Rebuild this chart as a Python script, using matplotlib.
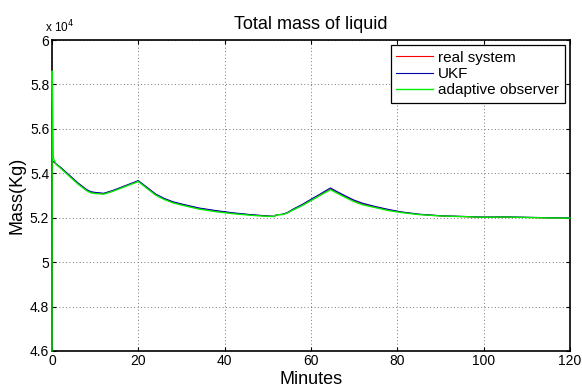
import matplotlib
matplotlib.use('Agg')
import matplotlib.pyplot as plt

plt.rcParams['font.family'] = ['Liberation Sans', 'DejaVu Sans']

# time in minutes
t = [0, 0.5, 1, 2, 4, 6, 8, 9, 10, 12, 14, 16, 18, 20, 22, 24, 26, 28, 30,
     34, 38, 42, 46, 50, 51.5, 52, 53.5, 54.5, 56, 58, 60, 62, 64.5, 66, 68,
     70, 72, 75, 78, 81, 85, 90, 95, 100, 105, 110, 115, 120]

# mass (x 10^4 kg)
real_system = [5.455, 5.45, 5.44, 5.425, 5.39, 5.355, 5.325, 5.315, 5.312,
               5.308, 5.32, 5.335, 5.35, 5.365, 5.335, 5.305, 5.285, 5.27,
               5.26, 5.242, 5.23, 5.22, 5.213, 5.207, 5.206, 5.213, 5.215,
               5.222, 5.238, 5.258, 5.28, 5.302, 5.33, 5.315, 5.295, 5.276,
               5.262, 5.248, 5.235, 5.225, 5.215, 5.208, 5.205, 5.202, 5.203,
               5.201, 5.199, 5.198]
ukf = [5.452, 5.452, 5.442, 5.427, 5.392, 5.357, 5.327, 5.317, 5.314,
       5.31, 5.322, 5.337, 5.352, 5.367, 5.337, 5.307, 5.287, 5.272,
       5.262, 5.244, 5.232, 5.222, 5.214, 5.208, 5.206, 5.213, 5.216,
       5.223, 5.24, 5.26, 5.283, 5.305, 5.334, 5.318, 5.298, 5.279,
       5.265, 5.25, 5.237, 5.226, 5.216, 5.209, 5.206, 5.203, 5.204,
       5.202, 5.2, 5.199]

t_obs = [0, 0.05, 0.3, 0.6, 1, 2, 4, 6, 8, 9, 10, 12, 14, 16, 18, 20, 22, 24,
         26, 28, 30, 34, 38, 42, 46, 50, 51.5, 52, 53.5, 54.5, 56, 58, 60, 62,
         64.5, 66, 68, 70, 72, 75, 78, 81, 85, 90, 95, 100, 105, 110, 115, 120]
adaptive_observer = [4.6, 5.86, 5.47, 5.455, 5.44, 5.423, 5.387, 5.352, 5.322,
                     5.312, 5.309, 5.306, 5.318, 5.333, 5.348, 5.363, 5.332,
                     5.302, 5.282, 5.267, 5.257, 5.239, 5.227, 5.218, 5.211,
                     5.206, 5.206, 5.213, 5.214, 5.221, 5.236, 5.255, 5.277,
                     5.299, 5.326, 5.311, 5.291, 5.272, 5.258, 5.245, 5.232,
                     5.223, 5.214, 5.208, 5.205, 5.202, 5.203, 5.201, 5.199,
                     5.198]

fig = plt.figure(figsize=(5.82, 3.88), dpi=100)
ax = fig.add_axes([0.0893, 0.0954, 0.890, 0.8015])

ax.plot(t, real_system, color='#ff0000', lw=0.8, label='real system')
ax.plot(t, ukf, color='#0000b0', lw=0.8, label='UKF')
ax.plot(t_obs, adaptive_observer, color='#00ee00', lw=1.0,
        label='adaptive observer', clip_on=False, zorder=5)

ax.set_xlim(0, 120)
ax.set_ylim(4.6, 6.0)
ax.set_xticks([0, 20, 40, 60, 80, 100, 120])
ax.set_yticks([4.6, 4.8, 5.0, 5.2, 5.4, 5.6, 5.8, 6.0])
ax.set_yticklabels(['4.6', '4.8', '5', '5.2', '5.4', '5.6', '5.8', '6'])
ax.tick_params(direction='in', top=True, right=True, labelsize=10,
               length=3, width=0.8, pad=2)
ax.grid(True, linestyle=(0, (1, 2.5)), color='#777777', linewidth=0.7)
for s in ax.spines.values():
    s.set_linewidth(1.2)

ax.set_title('Total mass of liquid', fontsize=13, pad=8)
ax.set_xlabel('Minutes', fontsize=13, labelpad=2)
ax.set_ylabel('Mass(Kg)', fontsize=13, labelpad=3)
ax.text(-0.0135, 1.016, r'x 10$^4$', transform=ax.transAxes, fontsize=8.5,
        ha='left', va='bottom')

leg = ax.legend(loc='upper right', fontsize=11, fancybox=False,
                framealpha=1, edgecolor='black', borderpad=0.35,
                handlelength=2.4, handletextpad=0.35, labelspacing=0.15,
                borderaxespad=0.35)
leg.get_frame().set_linewidth(0.9)

plt.savefig('out.png', dpi=100)
